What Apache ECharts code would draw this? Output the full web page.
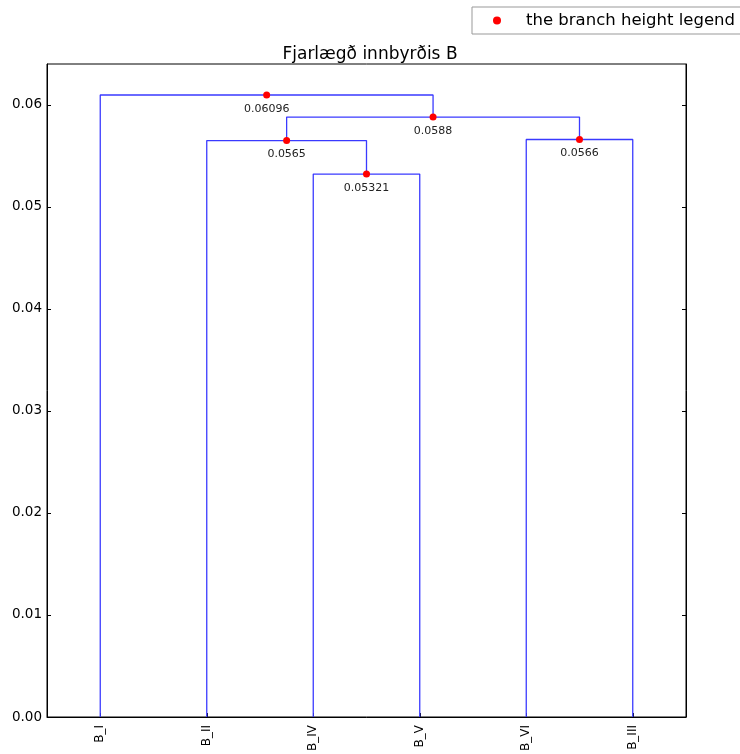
<!DOCTYPE html>
<html><head><meta charset="utf-8">
<script src="https://cdn.jsdelivr.net/npm/echarts@6/dist/echarts.min.js"></script>
<style>html,body{margin:0;padding:0;background:#fff}#c{width:740px;height:754px}</style>
</head><body><div id="c"></div>
<script>
// leaves (dendrogram order) and their x positions (scipy convention 5,15,...)
const leafNames = ['B_I','B_II','B_IV','B_V','B_VI','B_III'];
const leafX = [5, 15, 25, 35, 45, 55];
// merges: left child x/height, right child x/height, merge height
const mergeLeftX   = [25, 15, 45, 22.5, 5];
const mergeLeftH   = [0, 0, 0, 0.0565, 0];
const mergeRightX  = [35, 30, 55, 50, 36.25];
const mergeRightH  = [0, 0.05321, 0, 0.0566, 0.0588];
const mergeHeight  = [0.05321, 0.0565, 0.0566, 0.0588, 0.06096];
const mergeLabels  = ['0.05321','0.0565','0.0566','0.0588','0.06096'];
const yTicks = [0, 0.01, 0.02, 0.03, 0.04, 0.05, 0.06];

const linkSeries = mergeHeight.map((h, i) => ({
  type: 'line',
  xAxisIndex: 0, yAxisIndex: 0,
  data: [[mergeLeftX[i], mergeLeftH[i]], [mergeLeftX[i], h], [mergeRightX[i], h], [mergeRightX[i], mergeRightH[i]]],
  symbol: 'none',
  lineStyle: { color: '#3a3aff', width: 1.3 },
  silent: true, animation: false, z: 2
}));

const dotData = mergeHeight.map((h, i) => ({ value: [(mergeLeftX[i] + mergeRightX[i]) / 2, h], label: { formatter: mergeLabels[i] } }));

const chart = echarts.init(document.getElementById('c'), null, { renderer: 'canvas' });
chart.setOption({
  animation: false,
  textStyle: { fontFamily: 'DejaVu Sans' },
  title: {
    text: 'Fjarlægð innbyrðis B', left: 'center', top: 41,
    textStyle: { fontSize: 17, fontWeight: 'normal', color: '#000', fontFamily: 'DejaVu Sans' }
  },
  legend: {
    data: [{ name: 'the branch height legend', icon: 'circle' }],
    left: 472, top: 7,
    padding: [5, 40, 5, 21],
    itemWidth: 8, itemHeight: 8,
    borderColor: '#999', borderWidth: 1, borderRadius: 0,
    backgroundColor: '#fff',
    textStyle: { fontSize: 16.5, color: '#000', fontFamily: 'DejaVu Sans', padding: [0, 0, 0, 20] }
  },
  grid: { left: 47, right: 54, top: 64, bottom: 35, show: true, borderColor: '#000', borderWidth: 1, backgroundColor: 'transparent' },
  xAxis: {
    type: 'value', min: 0, max: 60,
    splitLine: { show: false },
    axisLine: { show: true, lineStyle: { color: '#000' } },
    axisTick: { show: true, inside: true, length: 4, customValues: leafX, lineStyle: { color: '#000' } },
    axisLabel: {
      customValues: leafX, rotate: 90, fontSize: 12, color: '#000', margin: 8,
      formatter: v => leafNames[leafX.indexOf(Math.round(v))] || ''
    }
  },
  yAxis: [{
    type: 'value', min: 0, max: 0.064,
    splitLine: { show: false },
    axisLine: { show: true, lineStyle: { color: '#000' } },
    axisTick: { show: true, inside: true, length: 4, customValues: yTicks, lineStyle: { color: '#000' } },
    axisLabel: { customValues: yTicks, fontSize: 13.5, color: '#000', margin: 5, formatter: v => v.toFixed(2) }
  }, {
    type: 'value', min: 0, max: 0.064, position: 'right',
    splitLine: { show: false },
    axisLine: { show: true, lineStyle: { color: '#000' } },
    axisTick: { show: true, inside: true, length: 4, customValues: yTicks, lineStyle: { color: '#000' } },
    axisLabel: { show: false }
  }],
  series: linkSeries.concat([{
    name: 'the branch height legend',
    type: 'scatter',
    data: dotData,
    symbol: 'circle', symbolSize: 7,
    itemStyle: { color: '#ff0000', opacity: 1 },
    label: { show: true, position: 'bottom', distance: 5, fontSize: 11, color: '#222', fontFamily: 'DejaVu Sans' },
    z: 5
  }])
});
</script></body></html>
